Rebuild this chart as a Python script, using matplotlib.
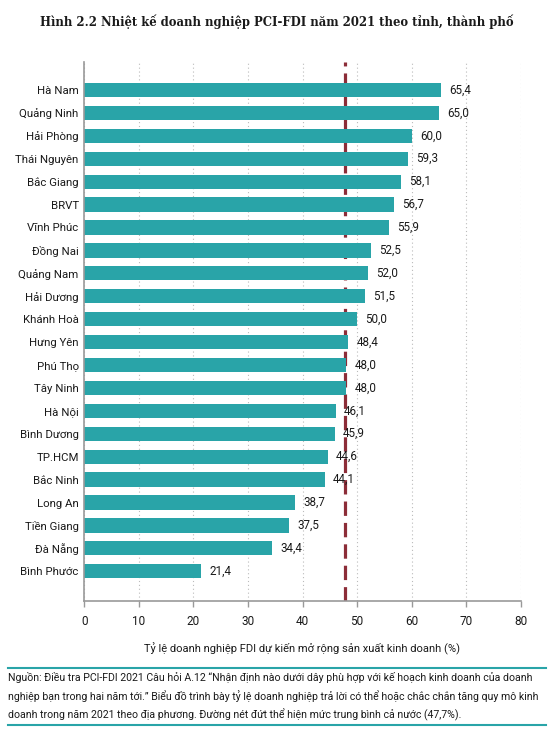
import matplotlib
matplotlib.use("Agg")
import matplotlib.pyplot as plt
from matplotlib.lines import Line2D

provinces = ["Hà Nam", "Quảng Ninh", "Hải Phòng", "Thái Nguyên", "Bắc Giang", "BRVT",
             "Vĩnh Phúc", "Đồng Nai", "Quảng Nam", "Hải Dương", "Khánh Hoà", "Hưng Yên",
             "Phú Thọ", "Tây Ninh", "Hà Nội", "Bình Dương", "TP.HCM", "Bắc Ninh",
             "Long An", "Tiền Giang", "Đà Nẵng", "Bình Phước"]
values = [65.4, 65.0, 60.0, 59.3, 58.1, 56.7, 55.9, 52.5, 52.0, 51.5, 50.0, 48.4,
          48.0, 48.0, 46.1, 45.9, 44.6, 44.1, 38.7, 37.5, 34.4, 21.4]
national_avg = 47.7
x_ticks = [0, 10, 20, 30, 40, 50, 60, 70, 80]

TEAL = "#29a4a8"
RED = "#8c2d38"
TXT = "#1a1a1a"

plt.rcParams["font.family"] = ["Roboto", "DejaVu Sans"]

fig = plt.figure(figsize=(5.54, 7.3), dpi=100)
ax = fig.add_axes([84.3 / 554, 1 - 601.3 / 730, (520.7 - 84.3) / 554, (601.3 - 62) / 730])

ypos = list(range(len(provinces)))
ax.axvline(national_avg, color=RED, lw=2.3, dashes=(4.5, 2.2), zorder=1)
ax.barh(ypos, values, height=0.62, color=TEAL, zorder=2)
for y, v in zip(ypos, values):
    ax.text(v + 1.5, y, f"{v:.1f}".replace(".", ","), va="center", ha="left",
            fontsize=8.4, color=TXT, zorder=3)

ax.set_xlim(0, 80)
ax.set_ylim(len(provinces) - 1 + 1.31, -1.22)
ax.set_yticks(ypos)
ax.set_yticklabels(provinces, fontsize=8.2, color=TXT)
ax.set_xticks(x_ticks)
ax.set_xticklabels([str(t) for t in x_ticks], fontsize=8.5, color=TXT)
ax.tick_params(axis="y", length=0, pad=4)
ax.tick_params(axis="x", length=4, color="#999999", width=1, pad=6)
ax.grid(axis="x", color="#bbbbbb", linestyle=(0, (1, 2.5)), lw=0.8, zorder=0)
ax.set_axisbelow(True)
for side in ["top", "right"]:
    ax.spines[side].set_visible(False)
for side in ["left", "bottom"]:
    ax.spines[side].set_color("#999999")
    ax.spines[side].set_linewidth(1.2)
ax.set_xlabel("Tỷ lệ doanh nghiệp FDI dự kiến mở rộng sản xuất kinh doanh (%)",
              fontsize=8, color=TXT, labelpad=10)

fig.text(0.5, 1 - 22 / 730, "Hình 2.2 Nhiệt kế doanh nghiệp PCI-FDI năm 2021 theo tỉnh, thành phố",
         ha="center", va="center", fontsize=8.4, fontweight="bold", family="DejaVu Serif",
         color=TXT)

for yline in [668, 725]:
    fig.add_artist(Line2D([8 / 554, 546 / 554], [1 - yline / 730] * 2, color=TEAL, lw=1.5))

note = ("Nguồn: Điều tra PCI-FDI 2021 Câu hỏi A.12 \u201cNhận định nào dưới dây phù hợp với kế hoạch kinh doanh của doanh\n"
        "nghiệp bạn trong hai năm tới.\u201d Biểu đồ trình bày tỷ lệ doanh nghiệp trả lời có thể hoặc chắc chắn tăng quy mô kinh\n"
        "doanh trong năm 2021 theo địa phương. Đường nét đứt thể hiện mức trung bình cả nước (47,7%).")
fig.text(8 / 554, 1 - 696.5 / 730, note, ha="left", va="center", fontsize=7.6,
         linespacing=1.7, color=TXT)

fig.savefig("out.png", dpi=100)
